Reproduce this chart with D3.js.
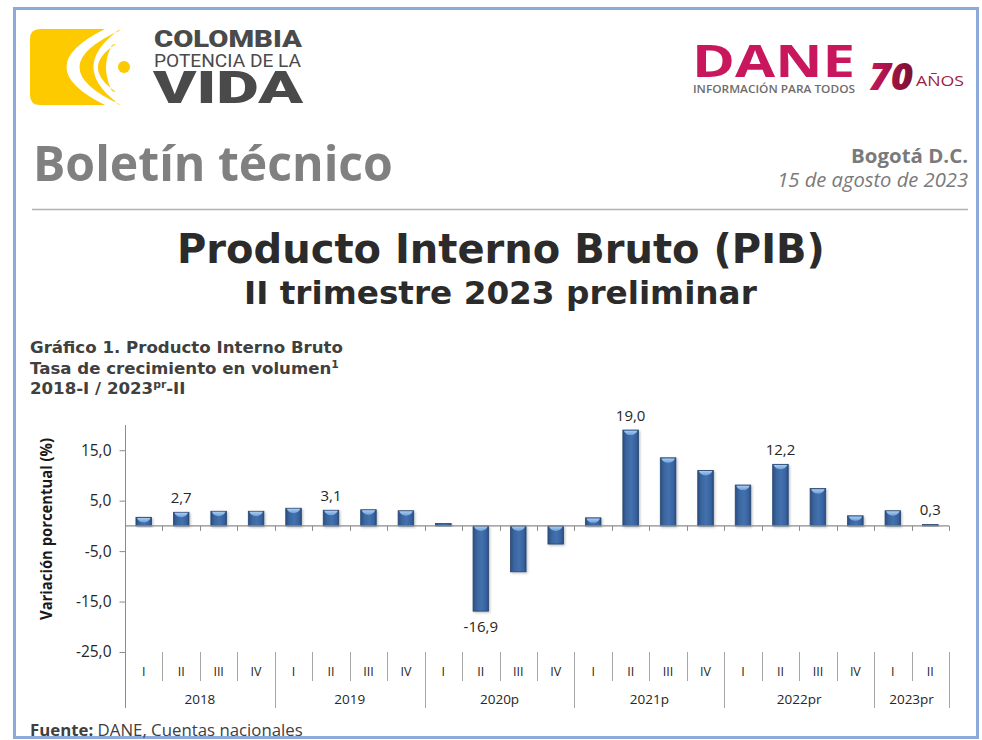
<!DOCTYPE html>
<html>
<head>
<meta charset="utf-8">
<script src="https://cdn.jsdelivr.net/npm/d3@7"></script>
<style>
  html, body { margin: 0; padding: 0; background: #ffffff; }
  svg { display: block; }
</style>
</head>
<body>
<svg id="chart" width="982" height="740"></svg>
<script>
// ---------------- DATA ----------------
const years = ["2018", "2019", "2020p", "2021p", "2022pr", "2023pr"];
const quartersPerYear = [4, 4, 4, 4, 4, 2];
const quarterNames = ["I", "II", "III", "IV"];
const values = [1.7, 2.7, 2.9, 2.9, 3.5, 3.1, 3.2, 3.0, 0.5, -16.9, -9.1, -3.6,
                1.6, 19.0, 13.5, 11.0, 8.1, 12.2, 7.4, 2.0, 3.0, 0.3];
const labelledIdx = [1, 5, 9, 13, 17, 21];
const yTicks = [-25, -15, -5, 5, 15];
const yDomain = [-25, 20];

// build categories
const categories = [];
years.forEach((y, yi) => {
  for (let q = 0; q < quartersPerYear[yi]; q++) {
    categories.push({ key: y + "-" + quarterNames[q], year: y, q: quarterNames[q] });
  }
});
const data = categories.map((c, i) => ({ ...c, value: values[i], i }));

// ---------------- SVG ----------------
const svg = d3.select("#chart");
const defs = svg.append("defs");
const fmt = v => d3.format(".1f")(v).replace(".", ",").replace("\u2212", "-");

function fitWidth(sel, w) {
  const l = sel.node().getComputedTextLength();
  const fs = parseFloat(sel.attr("font-size"));
  sel.attr("font-size", fs * w / l);
  return sel;
}

// page border
svg.append("rect").attr("x", 14.5).attr("y", 8.5).attr("width", 963).attr("height", 729)
  .attr("fill", "none").attr("stroke", "#8eaadb").attr("stroke-width", 3);

// ---------- Logo: Colombia potencia de la vida ----------
const logo = svg.append("g");
const yel = "#fdca00";
logo.append("path").attr("fill", yel)
  .attr("d", "M40 29 L105 29 Q28 67 105 105 L40 105 Q30 105 30 95 L30 39 Q30 29 40 29 Z");
logo.append("path").attr("fill", yel)
  .attr("d", "M121 30 Q38 67 121 105 Q116 104 115 101 Q72 67 115 33 Q117 30 121 30 Z");
logo.append("path").attr("fill", yel)
  .attr("d", "M116 44 Q80 67 116 92 Q112 92 111 89 Q101 67 111 47 Q112 44 116 44 Z");
logo.append("circle").attr("cx", 124).attr("cy", 67).attr("r", 6).attr("fill", yel);
logo.append("text").attr("x", 154).attr("y", 47).text("COLOMBIA")
  .attr("font-family", "Roboto, 'Open Sans', sans-serif").attr("font-weight", 900)
  .attr("font-size", 24).attr("fill", "#4a4a4a")
  .attr("textLength", 148).attr("lengthAdjust", "spacingAndGlyphs");
logo.append("text").attr("x", 154).attr("y", 67).text("POTENCIA DE LA")
  .attr("font-family", "Roboto, 'Open Sans', sans-serif").attr("font-weight", 400)
  .attr("font-size", 18).attr("fill", "#4a4a4a")
  .attr("textLength", 147).attr("lengthAdjust", "spacingAndGlyphs");
logo.append("text").attr("x", 153).attr("y", 103).text("VIDA")
  .attr("font-family", "Roboto, 'Open Sans', sans-serif").attr("font-weight", 900)
  .attr("font-size", 44).attr("fill", "#4a4a4a")
  .attr("textLength", 150).attr("lengthAdjust", "spacingAndGlyphs");

// ---------- Logo: DANE ----------
const dane = svg.append("g");
dane.append("text").attr("x", 692).attr("y", 77).text("DANE")
  .attr("font-family", "'Open Sans', sans-serif").attr("font-weight", 700)
  .attr("font-size", 45).attr("fill", "#c8175d")
  .attr("textLength", 163).attr("lengthAdjust", "spacingAndGlyphs");
dane.append("text").attr("x", 693).attr("y", 93).text("INFORMACIÓN PARA TODOS")
  .attr("font-family", "'Open Sans', sans-serif").attr("font-weight", 600)
  .attr("font-size", 11).attr("fill", "#6d6d6d")
  .attr("textLength", 162).attr("lengthAdjust", "spacingAndGlyphs");
const g70 = defs.append("linearGradient").attr("id", "g70").attr("x1", 0).attr("x2", 1);
g70.append("stop").attr("offset", 0).attr("stop-color", "#c8175d");
g70.append("stop").attr("offset", 1).attr("stop-color", "#7a1230");
dane.append("text").attr("x", 869).attr("y", 90).text("70")
  .attr("font-family", "'Open Sans', sans-serif").attr("font-weight", 800).attr("font-style", "italic")
  .attr("font-size", 37).attr("fill", "url(#g70)")
  .attr("textLength", 44).attr("lengthAdjust", "spacingAndGlyphs");
dane.append("text").attr("x", 916).attr("y", 86).text("AÑOS")
  .attr("font-family", "'Open Sans', sans-serif").attr("font-weight", 400)
  .attr("font-size", 15).attr("fill", "#9b2242")
  .attr("textLength", 48).attr("lengthAdjust", "spacingAndGlyphs");

// ---------- Header ----------
fitWidth(svg.append("text").attr("x", 33).attr("y", 181).text("Boletín técnico")
  .attr("font-family", "'Open Sans', sans-serif").attr("font-weight", 700)
  .attr("font-size", 42).attr("fill", "#808080"), 360);
fitWidth(svg.append("text").attr("x", 968).attr("y", 163).attr("text-anchor", "end").text("Bogotá D.C.")
  .attr("font-family", "'Open Sans', sans-serif").attr("font-weight", 700)
  .attr("font-size", 16).attr("fill", "#7a7a7a"), 117);
fitWidth(svg.append("text").attr("x", 968).attr("y", 187).attr("text-anchor", "end").text("15 de agosto de 2023")
  .attr("font-family", "'Open Sans', sans-serif").attr("font-style", "italic")
  .attr("font-size", 17).attr("fill", "#7a7a7a"), 191);
svg.append("line").attr("x1", 32).attr("x2", 968).attr("y1", 209.5).attr("y2", 209.5)
  .attr("stroke", "#b0b0b0").attr("stroke-width", 1.5);

const wide = "'DejaVu Sans', Verdana, sans-serif";
fitWidth(svg.append("text").attr("x", 177).attr("y", 263)
  .text("Producto Interno Bruto (PIB)")
  .attr("font-family", wide).attr("font-weight", 700)
  .attr("font-size", 33).attr("fill", "#2b2b2b"), 648);
fitWidth(svg.append("text").attr("x", 244).attr("y", 304)
  .text("II trimestre 2023 preliminar")
  .attr("font-family", wide).attr("font-weight", 700)
  .attr("font-size", 27).attr("fill", "#2b2b2b"), 513);

// chart titles
const tf = "'Open Sans', sans-serif";
const t1 = fitWidth(svg.append("text").attr("x", 30).attr("y", 353).text("Gráfico 1. Producto Interno Bruto")
  .attr("font-family", wide).attr("font-weight", 700).attr("font-size", 15).attr("fill", "#404040"), 313);
const tfs = Math.min(16.8, +t1.attr("font-size"));
t1.attr("font-size", tfs);
const t2 = svg.append("text").attr("x", 30).attr("y", 374)
  .attr("font-family", wide).attr("font-weight", 700).attr("font-size", tfs).attr("fill", "#404040");
t2.append("tspan").text("Tasa de crecimiento en volumen");
t2.append("tspan").text("1").attr("font-size", tfs * 0.65).attr("dy", -6);
const t3 = svg.append("text").attr("x", 30).attr("y", 394)
  .attr("font-family", wide).attr("font-weight", 700).attr("font-size", tfs).attr("fill", "#404040");
t3.append("tspan").text("2018-I / 2023");
t3.append("tspan").text("pr").attr("font-size", tfs * 0.65).attr("dy", -6);
t3.append("tspan").text("-II").attr("dy", 6);

// ---------- Chart ----------
const x0 = 125, x1 = 949;
const y = d3.scaleLinear().domain(yDomain).range([652, 425]);
const x = d3.scaleBand().domain(data.map(d => d.key)).range([x0, x1])
  .paddingInner(0.585).paddingOuter(0.2925);
const step = x.step();
const axisCol = "#8c8c8c";

// y axis
const yAxis = d3.axisLeft(y).tickValues(yTicks).tickSize(6).tickFormat(fmt);
const gy = svg.append("g").attr("transform", `translate(${x0 + 0.5},0)`).call(yAxis);
gy.select(".domain").remove();
gy.selectAll(".tick line").attr("stroke", axisCol);
gy.selectAll(".tick text").attr("font-family", tf).attr("font-size", 15.5)
  .attr("fill", "#262626").attr("x", -14);
svg.append("line").attr("x1", x0 + 0.5).attr("x2", x0 + 0.5).attr("y1", 425).attr("y2", 708)
  .attr("stroke", axisCol).attr("stroke-width", 1);

// y axis title
svg.append("text").attr("transform", "translate(52,529) rotate(-90)").attr("text-anchor", "middle")
  .text("Variación porcentual (%)")
  .attr("font-family", "'Liberation Sans Narrow', 'Open Sans', sans-serif").attr("font-weight", 700)
  .attr("font-size", 15.5).attr("fill", "#1a1a1a")
  .attr("textLength", 182).attr("lengthAdjust", "spacingAndGlyphs");

// bar gradients
const bg = defs.append("linearGradient").attr("id", "barG").attr("x1", 0).attr("x2", 1);
[[0, "#2a4f82"], [0.25, "#3b66a0"], [0.55, "#4371ad"], [0.85, "#3762a0"], [1, "#284c7e"]]
  .forEach(s => bg.append("stop").attr("offset", s[0]).attr("stop-color", s[1]));
const hg = defs.append("linearGradient").attr("id", "hiG").attr("x1", 0).attr("x2", 0).attr("y1", 0).attr("y2", 1);
hg.append("stop").attr("offset", 0).attr("stop-color", "#a8cbf2");
hg.append("stop").attr("offset", 1).attr("stop-color", "#6f9fd8");
const sh = defs.append("filter").attr("id", "shadow").attr("x", "-30%").attr("y", "-10%")
  .attr("width", "160%").attr("height", "130%");
sh.append("feDropShadow").attr("dx", 1.2).attr("dy", 1.2).attr("stdDeviation", 1)
  .attr("flood-color", "#000").attr("flood-opacity", 0.25);

const bars = svg.append("g");
const bw = x.bandwidth();
data.forEach(d => {
  const top = y(Math.max(0, d.value));
  const bot = y(Math.min(0, d.value));
  const h = Math.max(1, bot - top);
  const g = bars.append("g").attr("filter", "url(#shadow)");
  g.append("rect").attr("x", x(d.key)).attr("y", top).attr("width", bw).attr("height", h)
    .attr("fill", "url(#barG)").attr("stroke", "#27466f").attr("stroke-width", 0.8);
  if (h > 4) {
    const xl = x(d.key) + 1, xr = x(d.key) + bw - 1, hh = Math.min(5, h - 2);
    g.append("path")
      .attr("d", `M${xl},${top + 0.6} L${xr},${top + 0.6} Q${xr - 2},${top + hh} ${(xl + xr) / 2},${top + hh} Q${xl + 2},${top + hh} ${xl},${top + 0.6} Z`)
      .attr("fill", "url(#hiG)");
  }
});

// x axis (zero line) with ticks at band boundaries
svg.append("line").attr("x1", x0).attr("x2", x1).attr("y1", y(0)).attr("y2", y(0))
  .attr("stroke", axisCol).attr("stroke-width", 1.2);
const boundaries = d3.range(1, data.length + 1).map(i => x0 + i * step);
svg.append("g").selectAll("line").data(boundaries).join("line")
  .attr("x1", d => Math.round(d) + 0.5).attr("x2", d => Math.round(d) + 0.5)
  .attr("y1", y(0)).attr("y2", y(0) + 5).attr("stroke", axisCol);

// data labels
svg.append("g").selectAll("text").data(labelledIdx.map(i => data[i])).join("text")
  .attr("x", d => x(d.key) + bw / 2)
  .attr("y", d => d.value >= 0 ? y(d.value) - 9 : y(d.value) + 21)
  .attr("text-anchor", "middle").text(d => fmt(d.value))
  .attr("font-family", tf).attr("font-size", 15).attr("fill", "#262626");

// category axis (multi-level)
const catTop = 652, qBot = 681, yBot = 708;
const sepCol = "#a6a6a6";
const yearStarts = [];
let acc = 0;
quartersPerYear.forEach(n => { yearStarts.push(acc); acc += n; });
const yearStartSet = new Set(yearStarts.concat([data.length]));
const cat = svg.append("g");
d3.range(1, data.length + 1).forEach(i => {
  const xx = Math.round(x0 + i * step) + 0.5;
  cat.append("line").attr("x1", xx).attr("x2", xx).attr("y1", catTop)
    .attr("y2", yearStartSet.has(i) ? yBot : qBot).attr("stroke", sepCol);
});
cat.selectAll("text.q").data(data).join("text").attr("class", "q")
  .attr("x", d => x(d.key) + bw / 2).attr("y", 676).attr("text-anchor", "middle")
  .text(d => d.q).attr("font-family", tf).attr("font-size", 12.5).attr("fill", "#262626");
cat.selectAll("text.yr").data(years).join("text").attr("class", "yr")
  .attr("x", (d, i) => x0 + (yearStarts[i] + quartersPerYear[i] / 2) * step)
  .attr("y", 704).attr("text-anchor", "middle")
  .text(d => d).attr("font-family", tf).attr("font-size", 13.5).attr("fill", "#262626");

// footer
const ft = svg.append("text").attr("x", 30).attr("y", 736)
  .attr("font-family", tf).attr("font-size", 14.5).attr("fill", "#404040");
ft.append("tspan").text("Fuente:").attr("font-weight", 700);
ft.append("tspan").text(" DANE, Cuentas nacionales");
fitWidth(ft, 273);
</script>
</body>
</html>
